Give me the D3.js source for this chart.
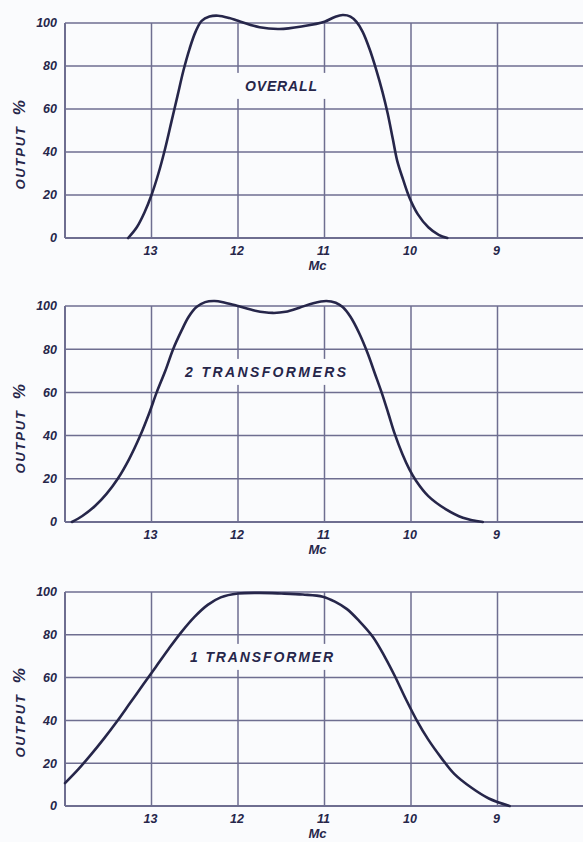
<!DOCTYPE html>
<html>
<head>
<meta charset="utf-8">
<script src="https://cdn.jsdelivr.net/npm/d3@7"></script>
<style>
  html, body { margin: 0; padding: 0; background: #fafbfd; }
  svg { display: block; }
  text { font-family: "Liberation Sans", Arial, sans-serif; font-style: italic; font-weight: bold; fill: #26264a; }
</style>
</head>
<body>
<svg id="chart" width="583" height="842"></svg>
<script>
// frequency ticks (Mc), plotted high to low
const mcTicks = [13, 12, 11, 10, 9];
const pctTicks = [0, 20, 40, 60, 80, 100];

// [Mc, output %]
const overallCurve = [
  [13.27, 0], [13.17, 5], [13.08, 12], [13.0, 20], [12.92, 30], [12.84, 42],
  [12.77, 54], [12.7, 66], [12.63, 78], [12.56, 88], [12.49, 96], [12.42, 101],
  [12.33, 103], [12.23, 103.4], [12.1, 102.3], [12.0, 101], [11.75, 98],
  [11.52, 97.2], [11.25, 98.5], [11.0, 100.6], [10.88, 102.8], [10.79, 103.7],
  [10.7, 103], [10.63, 100.5], [10.56, 96], [10.48, 88], [10.4, 78], [10.33, 68],
  [10.27, 58], [10.21, 46], [10.16, 36], [10.09, 27], [10.02, 19], [9.92, 11],
  [9.8, 5], [9.68, 1.5], [9.58, 0]
];
const twoTransformerCurve = [
  [13.92, 0], [13.8, 2.8], [13.65, 7.5], [13.52, 13], [13.39, 20], [13.26, 29],
  [13.13, 40], [13.03, 50], [12.94, 60], [12.84, 70], [12.75, 80], [12.66, 88],
  [12.57, 95], [12.48, 99.5], [12.38, 101.8], [12.27, 102.3], [12.15, 101.5],
  [12.0, 100], [11.8, 97.8], [11.6, 96.8], [11.45, 97.3], [11.29, 99.2],
  [11.13, 101.3], [10.98, 102.3], [10.87, 101.5], [10.79, 99.5], [10.7, 95],
  [10.6, 87.5], [10.5, 78], [10.42, 69], [10.34, 60], [10.26, 50], [10.19, 41],
  [10.1, 31.5], [10.02, 24.5], [9.94, 19], [9.8, 12], [9.6, 6], [9.4, 2], [9.17, 0]
];
const oneTransformerCurve = [
  [14.0, 10.7], [13.85, 17], [13.7, 24], [13.55, 31.5], [13.4, 39.5], [13.25, 48],
  [13.1, 56.5], [12.95, 65], [12.8, 73.5], [12.65, 81.5], [12.5, 88.5], [12.35, 94],
  [12.2, 97.5], [12.0, 99.3], [11.75, 99.6], [11.5, 99.3], [11.25, 98.8],
  [11.02, 97.8], [10.88, 95.5], [10.74, 92], [10.6, 86.5], [10.44, 79], [10.3, 69.5],
  [10.19, 61], [10.06, 50], [9.94, 40.5], [9.8, 31], [9.65, 22.5], [9.5, 15],
  [9.3, 8.5], [9.1, 3.5], [8.86, 0]
];
const panelTitles = ["OVERALL", "2 TRANSFORMERS", "1 TRANSFORMER"];

const ink = "#26264a";
const grid = "#6e6e90";
const svg = d3.select("#chart");

const x = d3.scaleLinear().domain([14, 8]).range([65, 584]);

const panels = [
  { curve: overallCurve, title: panelTitles[0], y0: 238, y100: 23, labelX: 245, labelY: 86, labelW: 72 },
  { curve: twoTransformerCurve, title: panelTitles[1], y0: 522, y100: 306, labelX: 185, labelY: 372, labelW: 161 },
  { curve: oneTransformerCurve, title: panelTitles[2], y0: 806, y100: 592, labelX: 190, labelY: 657, labelW: 143 }
];

panels.forEach(p => {
  const y = d3.scaleLinear().domain([0, 100]).range([p.y0, p.y100]);
  const g = svg.append("g");

  // horizontal grid
  g.selectAll("line.h").data(pctTicks).enter().append("line")
    .attr("x1", x(14)).attr("x2", 583)
    .attr("y1", d => y(d)).attr("y2", d => y(d))
    .attr("stroke", grid).attr("stroke-width", d => d === 0 ? 2 : 1.5);

  // vertical grid
  g.selectAll("line.v").data([14].concat(mcTicks)).enter().append("line")
    .attr("x1", d => x(d)).attr("x2", d => x(d))
    .attr("y1", y(100)).attr("y2", y(0))
    .attr("stroke", grid).attr("stroke-width", d => d === 14 ? 2 : 1.5);

  // panel label with white box over the grid
  const lab = g.append("text")
    .attr("x", p.labelX).attr("y", p.labelY)
    .attr("dy", "0.35em")
    .attr("font-size", 14)
    .attr("textLength", p.labelW)
    .attr("lengthAdjust", "spacing")
    .text(p.title);
  const bb = lab.node().getBBox();
  g.insert("rect", "text")
    .attr("x", bb.x - 9).attr("y", bb.y - 5)
    .attr("width", bb.width + 18).attr("height", bb.height + 10)
    .attr("fill", "#fafbfd");

  // curve
  const line = d3.line()
    .x(d => x(d[0]))
    .y(d => y(d[1]))
    .curve(d3.curveCatmullRom.alpha(0.5));
  g.append("path")
    .datum(p.curve)
    .attr("d", line)
    .attr("fill", "none")
    .attr("stroke", ink)
    .attr("stroke-width", 2.6)
    .attr("stroke-linecap", "round");

  // y tick labels
  g.selectAll("text.yt").data(pctTicks).enter().append("text")
    .attr("x", 57).attr("y", d => y(d))
    .attr("dy", "0.35em")
    .attr("text-anchor", "end")
    .attr("font-size", 12.5)
    .text(d => d);

  // x tick labels
  g.selectAll("text.xt").data(mcTicks).enter().append("text")
    .attr("x", d => x(d) - 1).attr("y", p.y0 + 17)
    .attr("text-anchor", "middle")
    .attr("font-size", 12.5)
    .text(d => d);

  // axis titles
  g.append("text")
    .attr("x", x(11) - 7).attr("y", p.y0 + 32)
    .attr("text-anchor", "middle")
    .attr("font-size", 13)
    .text("Mc");

  const yt = g.append("text")
    .attr("transform", `translate(25,${p.y0 - 94}) rotate(-90)`)
    .attr("text-anchor", "middle")
    .attr("font-size", 13)
    .attr("letter-spacing", 1.8);
  yt.append("tspan").text("OUTPUT");
  yt.append("tspan").attr("dx", 10).attr("font-size", 17).text("%");
});
</script>
</body>
</html>
